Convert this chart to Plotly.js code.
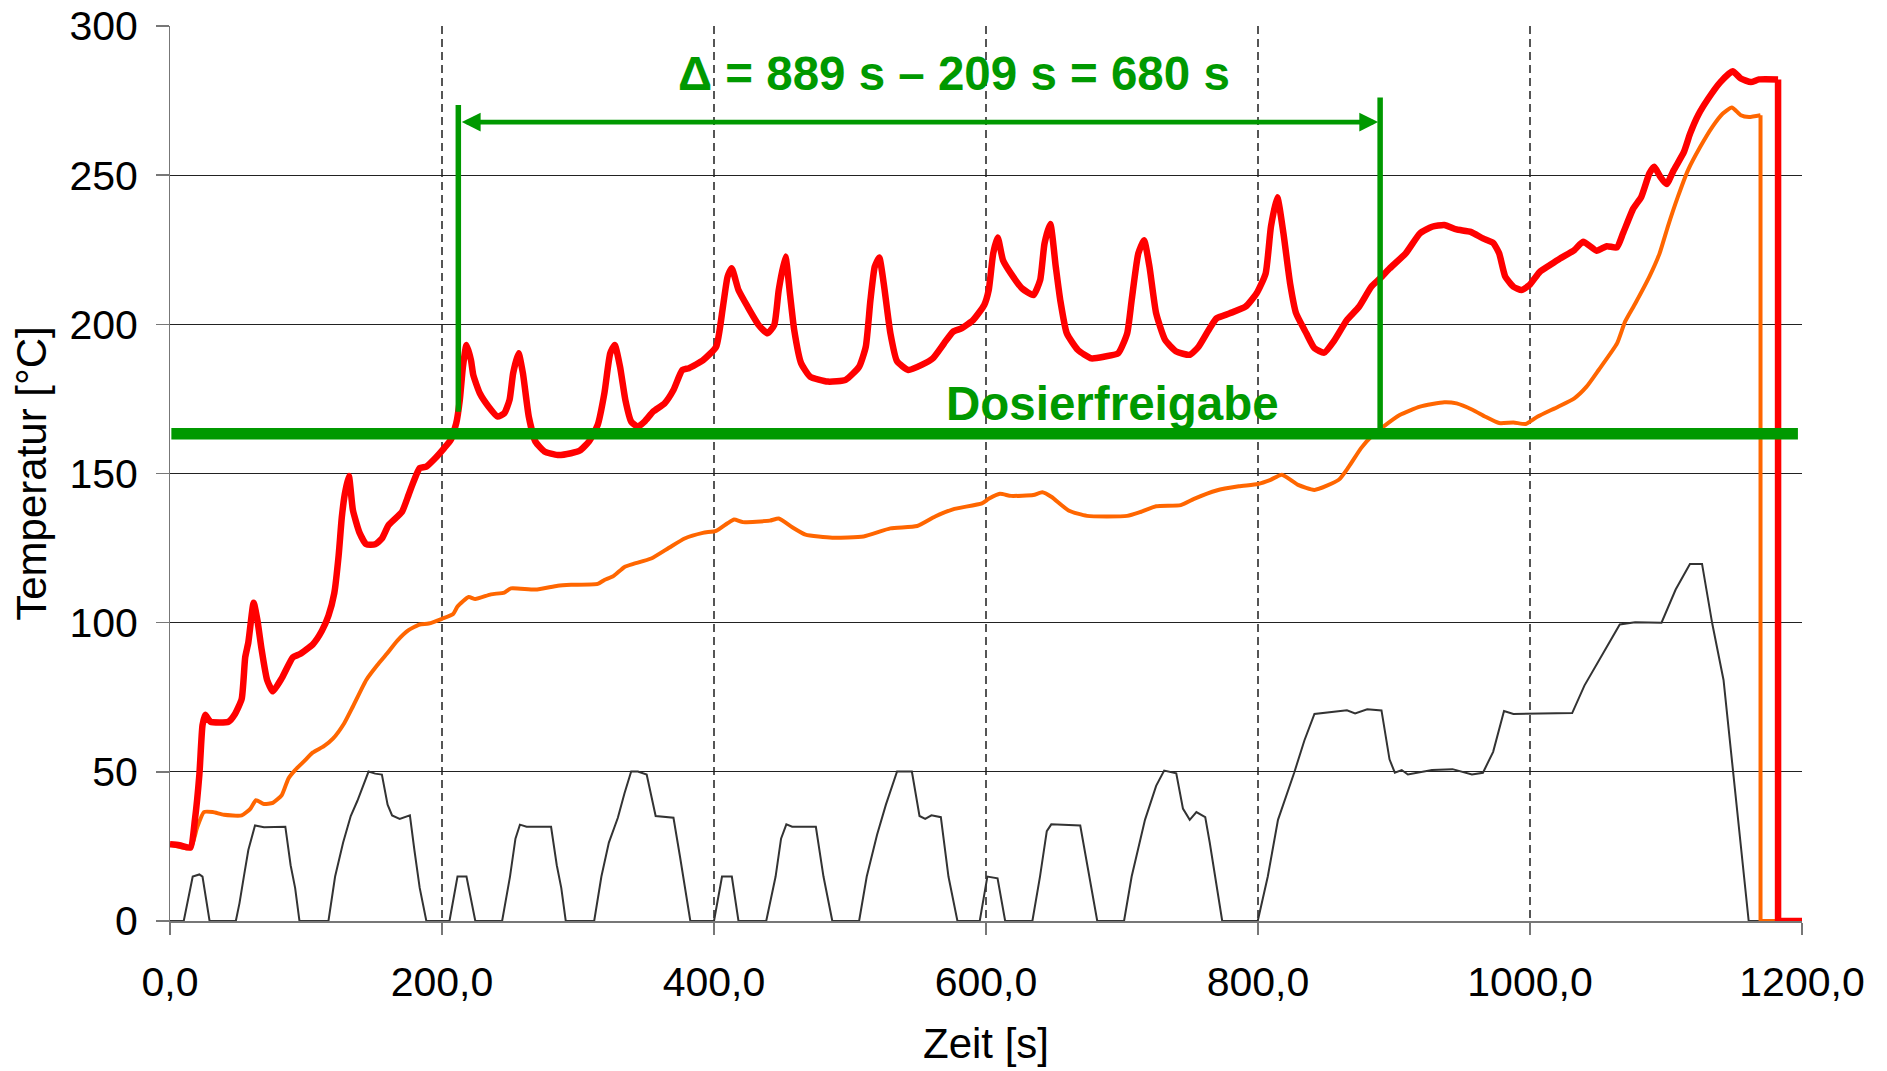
<!DOCTYPE html>
<html>
<head>
<meta charset="utf-8">
<script src="https://cdn.plot.ly/plotly-3.0.1.min.js"></script>
<style>
  html, body { margin: 0; padding: 0; background: #ffffff; }
  #chart { width: 1887px; height: 1071px; }
</style>
</head>
<body>
<div id="chart"></div>
<script>
// ---------- data ----------
// Red: hottest temperature curve
const redTime = [0,7,15,18.3,21.6,23.9,25.9,29.8,43,47.8,52.7,55.3,57.6,61.5,64.2,67.4,71.4,75.6,82.2,90.3,95.2,105.1,111.6,116.5,120.8,124,126.3,128.5,131.5,134.5,139.4,144.3,150.9,155.8,160.7,170.5,175.4,178.7,183.6,188.5,195,201.6,206.5,210.5,213.1,215.4,218,221.3,223,227.8,234.3,240.9,245.8,249.7,252.3,256.3,259.5,263.8,268.7,275.3,285.1,294.9,301.4,308,314.5,319.4,323.7,327,330.9,334.8,339.1,344,348.9,355.4,363.6,370.2,376.7,381.6,392,401.6,406.6,410,413,418,424.6,432.8,439.4,444.3,447.6,452.5,455.8,459,464,470.6,483.7,496.8,506.7,511.6,515,518.2,521.5,524.8,529.7,534.6,542.9,552.7,560.9,569.1,575.7,582.3,590.5,598.7,602,605.3,608.6,612.5,618.4,626.6,634.8,639.8,643,647.3,651.3,654.6,659.4,667.6,677.5,687.3,697.2,703.8,707.1,712,716.2,720.2,725.1,731.7,739.9,749.8,756.3,764.5,769.5,779.3,790.8,799,805.6,809.5,814.2,818.7,823.6,828,835.5,841.5,848.6,856.4,865.3,874.3,883.3,889.8,896.7,908.6,919.1,928,937,946,956.4,965.4,972.9,977.3,981.8,987.8,993.8,999.7,1007.2,1014.7,1022.1,1032.6,1039.1,1049,1056.4,1063.9,1068.4,1075.9,1081.8,1087.8,1091.4,1095.9,1100.4,1105.7,1113.2,1117.7,1123.6,1131.1,1140,1149,1155,1162.4,1168.4,1182.4,1182.4,1200];
const redTemp = [25.7,25.4,24.6,33.9,49.1,65.6,69.1,66.8,66.8,69.4,74.4,88.4,93.4,106.7,101,90.9,80.8,77,81.4,88.4,89.4,92.8,97.2,102.3,109.9,122.5,135.2,143,149.2,137.7,130.1,126.3,126.3,128.2,132.7,137.1,142.8,146.8,151.8,152.3,155.1,158.5,161.3,166.9,174.7,185.8,193.1,188,183,176.9,172.4,169.1,170.2,174.7,183.6,190.3,183.6,169.1,160.7,157.4,156.2,156.8,157.7,160.7,166.3,176.9,190.3,193.1,185.8,174.7,167.4,165.7,167.4,170.8,173.5,178,184.7,185.3,188,192.5,206,216,218.8,211.5,206,199.8,197,199.8,211.5,222.7,210.4,198,187,182.5,180.8,181.4,185.8,192.5,208,219.3,222.4,213.7,197,187.6,184.7,186.4,188.6,193.6,197.5,198.7,201.4,206.5,211.5,223.8,229.1,221.5,217,212,209.8,214.8,227,233.6,219.3,208.1,197,191.4,188.6,189.2,190.3,197,208.1,223.8,228.2,219.3,203.7,194.8,190.9,189.8,192.5,198.7,202,203.7,205.9,210.4,217,232.7,242.6,230.5,213.7,203.7,197,192,190.5,194.8,201.4,205.9,212.6,215.4,218.7,223.8,230.5,232.7,233.3,231.8,231,228.8,227.3,223.8,216,212.6,211.5,213.2,217.6,219.9,222.1,224.9,227.7,224.7,226.2,225.8,230.5,238.8,242.7,250.6,252.8,249.4,247,251.7,257.8,263.9,270.1,275.7,281.2,284.8,282.4,281.2,282.1,282.1,0,0];

// Orange: second temperature curve
const orangeTime = [0,15,20,24.9,31.4,39.6,52.7,59.2,63.2,69.1,75.6,82.2,87.1,92,98.5,105.1,113.2,119.8,128,134.5,144.3,152.5,159.1,167.2,175.4,183.6,190.2,200,208.2,211.4,219.6,224.5,236,245.8,250.7,268.7,285.1,294.9,314.5,319.4,326,334.2,340.7,353.8,366.9,378.4,391.8,401.6,409.9,414.8,421.3,441,447.6,457.5,467.3,487,510,529.7,549.4,562.6,575.7,597,602,610.2,618.4,634.8,641.4,648,661.1,674.3,703.8,713.6,725.1,743.2,753,769.5,785.9,800,808.8,817.6,829.5,841.5,859.4,866.8,875.8,883.3,892.2,904.2,919.1,937,946,958,966.9,977.4,987.8,996.8,1005.7,1020.7,1032.6,1041.6,1050.5,1064,1069.9,1077.4,1087.8,1095.3,1101.3,1108.7,1116.2,1125.2,1134.1,1141.6,1148.4,1155,1161,1169.5,1169.5,1182.4];
const orangeTemp = [25.7,24.4,31.4,36.5,36.5,35.6,35.4,37.7,40.5,39.2,39.6,42.2,47.8,50.6,53.5,56.5,58.6,61.1,66.2,71.9,80.8,85.8,89.4,94,97.5,99.4,99.7,101.3,102.9,105.4,108.6,107.9,109.5,110.1,111.5,111.1,112.4,112.7,113,114.3,115.6,118.7,119.7,121.5,125.1,128.2,130.1,130.8,133.3,134.6,133.7,134.2,134.9,132,129.5,128.5,128.9,131.6,132.4,135.6,138,140,141.5,143.2,142.5,142.8,143.7,142.2,137.5,135.8,135.8,137.1,139,139.4,141.5,144.3,145.7,146.5,147.8,149.6,146.2,144.5,147.9,152.3,158.5,162.4,165.7,169.6,172.4,173.9,173.5,171.3,169.1,166.9,167.1,166.6,169.1,172.4,175.2,179.1,184.7,193.6,200.9,207,216,223.8,232.7,242.7,251.7,259.5,266.2,270.6,272.7,270.1,269.5,270.1,0,0];

// Dark grey: driving-cycle trace
const greyTime = [0,10.1,16.7,21.6,23.9,29.1,48.4,51.1,54.3,57.6,62.5,69.1,84.8,88.7,92,95.2,116.5,121.4,127.3,132.9,137.8,146,150.9,155.8,160,163.3,168.9,176.4,179.7,183.6,188.5,205.5,211.4,218,224.5,244.2,250,254,257.3,262.2,280.2,284.4,287.7,291,311.9,317.2,322.7,329.3,334.2,339.1,344,350.5,357.1,363.6,370.2,375.1,382.6,400,405.9,413.1,418,438.4,445.3,449.3,453.2,457.5,474.9,480.5,487,506.7,512.3,519.9,526.4,534.6,545.5,551.1,555.3,559.9,566.8,572.4,579,595.4,601,608.5,614.1,634.1,639.7,644.7,648,669.3,675.9,681.8,701.5,707.1,716.9,725.1,731,739.9,744.8,749.8,754.7,761.2,764.5,773.7,799.8,807.2,814.7,826.6,834.1,841.5,865.4,871.4,880.3,890.8,896.7,900.6,905.7,910.2,928,943,957.3,965.4,972.9,980.9,987.8,1031,1040,1053.4,1066,1077.3,1096.7,1107.1,1117.6,1126.5,1134,1142.3,1148.9,1154.9,1160.8,1200];
const greyTemp = [0,0,14.9,15.6,14.9,0,0,6,14.9,23.8,32,31.4,31.6,18.7,11.1,0,0,14.9,26.3,35.2,40.3,50.1,49.4,49.1,39,35.4,34.2,35.4,23.8,11.1,0,0,14.9,14.9,0,0,14.9,27.6,32.3,31.6,31.6,18.7,11.1,0,0,14.9,26.3,34.6,42.8,50.1,50.1,49.1,35.2,34.9,34.6,21.3,0,0,14.9,14.9,0,0,14.9,27.6,32.4,31.6,31.6,14.9,0,0,14.9,28.9,39,50.1,50.1,35.2,34.2,35.4,34.8,14.9,0,0,14.9,14.3,0,0,14.9,30.1,32.4,32,14.9,0,0,14.9,33.9,45.3,50.4,49.5,37.7,33.9,36.5,34.8,26.3,0,0,14.9,33.9,49.7,60.5,69.4,70.6,69.6,71,70.6,54.2,49.7,50.6,49.1,50.6,50.9,49.1,49.7,56.7,70.4,69.4,69.7,78.9,89.6,99.4,100.1,100,111.1,119.7,119.7,99.7,80.8,51.6,25.1,0,0];

// Dosing markers (positions as drawn in the reference)
const startMarkerTime = 212;      // s, left green marker as drawn
const endMarkerTime = 889.8;      // s, right green marker as drawn
const dosingThreshold = 163.3;    // °C
const thresholdFrom = 1;
const thresholdTo = 1197;
const startMarkerRange = [170.7, 273.5];
const endMarkerRange = [dosingThreshold, 276];
const arrowLevel = 267.8;
const deltaLabel = '\u0394 = 889 s \u2013 209 s = 680 s';
const deltaLabelPos = [576.8, 284.0];
const thresholdLabel = 'Dosierfreigabe';
const thresholdLabelPos = [693.1, 173.4];

// Axis ticks
const xTickVals = [0, 200, 400, 600, 800, 1000, 1200];
const xTickText = ['0,0', '200,0', '400,0', '600,0', '800,0', '1000,0', '1200,0'];
const yTickVals = [0, 50, 100, 150, 200, 250, 300];
const yTickText = ['0', '50', '100', '150', '200', '250', '300'];

// ---------- drawing ----------
const GREEN = '#009900';
const FONT = '"Liberation Sans", Arial, Helvetica, sans-serif';

// smooth part of the curves, and the straight shut-off drop at the end
const redN = redTime.length, orN = orangeTime.length;

const traces = [
  { x: greyTime, y: greyTemp, type: 'scatter', mode: 'lines',
    line: { color: '#333333', width: 2 }, hoverinfo: 'skip' },
  { x: orangeTime.slice(0, orN - 2), y: orangeTemp.slice(0, orN - 2), type: 'scatter', mode: 'lines',
    line: { color: '#FF6600', width: 4, shape: 'spline', smoothing: 0.5 }, hoverinfo: 'skip' },
  { x: orangeTime.slice(orN - 3), y: orangeTemp.slice(orN - 3), type: 'scatter', mode: 'lines',
    line: { color: '#FF6600', width: 4 }, hoverinfo: 'skip' },
  { x: redTime.slice(0, redN - 2), y: redTemp.slice(0, redN - 2), type: 'scatter', mode: 'lines',
    line: { color: '#FF0000', width: 6.5, shape: 'spline', smoothing: 0.5 }, hoverinfo: 'skip' },
  { x: redTime.slice(redN - 3), y: redTemp.slice(redN - 3), type: 'scatter', mode: 'lines',
    line: { color: '#FF0000', width: 6.5 }, hoverinfo: 'skip' },
  { x: [thresholdFrom, thresholdTo], y: [dosingThreshold, dosingThreshold], type: 'scatter', mode: 'lines',
    line: { color: GREEN, width: 11.5 }, hoverinfo: 'skip' },
  { x: [startMarkerTime, startMarkerTime], y: startMarkerRange, type: 'scatter', mode: 'lines',
    line: { color: GREEN, width: 5.5 }, hoverinfo: 'skip' },
  { x: [endMarkerTime, endMarkerTime], y: endMarkerRange, type: 'scatter', mode: 'lines',
    line: { color: GREEN, width: 5.5 }, hoverinfo: 'skip' }
];

const layout = {
  width: 1887,
  height: 1071,
  showlegend: false,
  paper_bgcolor: '#ffffff',
  plot_bgcolor: '#ffffff',
  margin: { l: 170, r: 85, t: 26, b: 150, pad: 0 },
  font: { family: FONT, color: '#000000', size: 41 },
  xaxis: {
    range: [0, 1200],
    tickvals: xTickVals,
    ticktext: xTickText,
    ticks: 'outside',
    ticklen: 12.5,
    tickwidth: 1.5,
    tickcolor: '#777777',
    tickfont: { family: FONT, size: 41, color: '#000000' },
    ticklabelstandoff: 12,
    showgrid: true,
    gridcolor: '#555555',
    gridwidth: 1.2,
    griddash: '8px,5px',
    showline: true,
    linecolor: '#777777',
    linewidth: 1.5,
    zeroline: false,
    title: { text: 'Zeit [s]', font: { family: FONT, size: 42, color: '#000000' }, standoff: 24 },
    automargin: false,
    fixedrange: true
  },
  yaxis: {
    range: [0, 300],
    tickvals: yTickVals,
    ticktext: yTickText,
    ticks: 'outside',
    ticklen: 12.5,
    tickwidth: 1.5,
    tickcolor: '#777777',
    tickfont: { family: FONT, size: 41, color: '#000000' },
    ticklabelstandoff: 10,
    showgrid: true,
    gridcolor: '#222222',
    gridwidth: 1.2,
    showline: true,
    linecolor: '#777777',
    linewidth: 1.5,
    zeroline: false,
    title: { text: 'Temperatur [°C]', font: { family: FONT, size: 42, color: '#000000' }, standoff: 9 },
    automargin: false,
    fixedrange: true
  },
  annotations: [
    {
      x: endMarkerTime, y: arrowLevel, ax: startMarkerTime, ay: arrowLevel,
      xref: 'x', yref: 'y', axref: 'x', ayref: 'y',
      text: '', showarrow: true,
      arrowhead: 2, startarrowhead: 2, arrowside: 'end+start',
      arrowsize: 0.8, startarrowsize: 0.8, arrowwidth: 4.7,
      arrowcolor: GREEN, standoff: 2, startstandoff: 2
    },
    {
      x: deltaLabelPos[0], y: deltaLabelPos[1], xref: 'x', yref: 'y',
      text: deltaLabel,
      showarrow: false, xanchor: 'center', yanchor: 'middle',
      font: { family: FONT, size: 47.5, color: GREEN, weight: 'bold' }
    },
    {
      x: thresholdLabelPos[0], y: thresholdLabelPos[1], xref: 'x', yref: 'y',
      text: thresholdLabel,
      showarrow: false, xanchor: 'center', yanchor: 'middle',
      font: { family: FONT, size: 47.5, color: GREEN, weight: 'bold' }
    }
  ]
};

Plotly.newPlot('chart', traces, layout, { displayModeBar: false, staticPlot: true });
</script>
</body>
</html>
